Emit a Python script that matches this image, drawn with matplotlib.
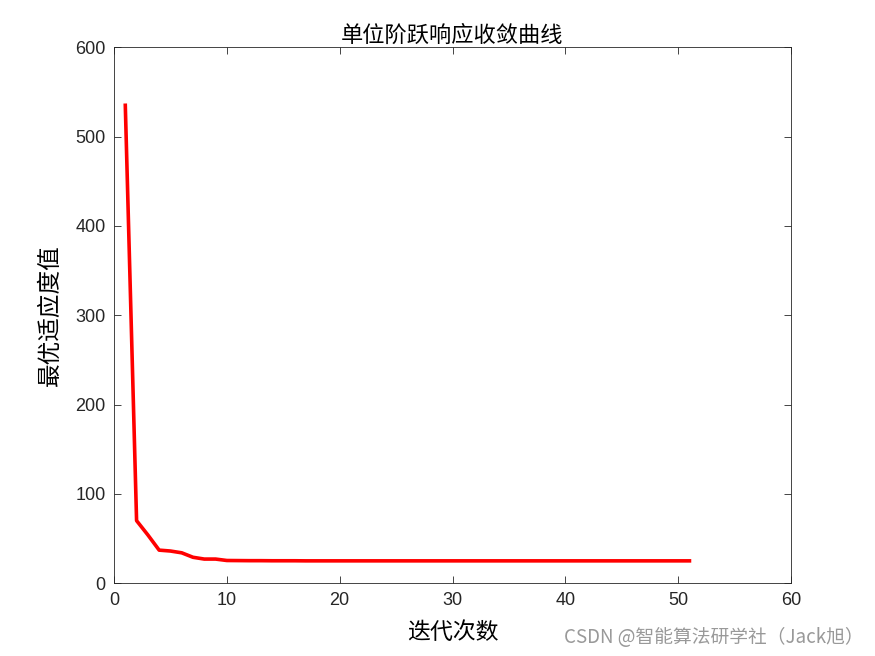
import matplotlib.pyplot as plt
from matplotlib import font_manager

names = {f.name for f in font_manager.fontManager.ttflist}
latin = 'Liberation Sans' if 'Liberation Sans' in names else 'Arimo'
plt.rcParams['font.family'] = [latin, 'Noto Sans CJK SC', 'DejaVu Sans']

# 迭代次数 与 最优适应度值
iters = list(range(1, 52))
fitness = [535, 70, 54, 37, 36, 34, 29, 27, 27, 25.4,
           25.3, 25.2, 25.2, 25.1, 25.1, 25.1, 25.0, 25.0, 25.0, 25.0,
           25.0, 25.0, 25.0, 25.0, 25.0, 25.0, 25.0, 25.0, 25.0, 25.0,
           25.0, 25.0, 25.0, 25.0, 25.0, 25.0, 25.0, 25.0, 25.0, 25.0,
           25.0, 25.0, 25.0, 25.0, 25.0, 25.0, 25.0, 25.0, 25.0, 25.0,
           25.0]
xticks = [0, 10, 20, 30, 40, 50, 60]
yticks = [0, 100, 200, 300, 400, 500, 600]

fig = plt.figure(figsize=(8.75, 6.56), dpi=100)
ax = fig.add_axes([0.1303, 0.111, 0.7737, 0.817])
ax.plot(iters, fitness, color='red', linewidth=2.6)
ax.set_xlim(0, 60)
ax.set_ylim(0, 600)
ax.set_xticks(xticks)
ax.set_yticks(yticks)
ax.set_xticklabels([str(t) for t in xticks], family=[latin, 'DejaVu Sans'])
ax.set_yticklabels([str(t) for t in yticks], family=[latin, 'DejaVu Sans'])
ax.tick_params(direction='in', labelsize=13, length=5, width=0.6,
               top=True, right=True, labeltop=False, labelright=False,
               colors='#262626', pad=6)
for s in ax.spines.values():
    s.set_linewidth(0.6)
    s.set_color('#262626')

cjk = ['Noto Sans CJK SC', 'DejaVu Sans']
ax.set_title('单位阶跃响应收敛曲线', fontsize=16, family=cjk, pad=4)
ax.set_xlabel('迭代次数', fontsize=16.5, family=cjk, labelpad=9)
ax.set_ylabel('最优适应度值', fontsize=17, family=cjk, labelpad=10)

fig.text(0.987, 0.012, 'CSDN @智能算法研学社（Jack旭）', ha='right', va='bottom',
         fontsize=13.5, color='#999999', family=cjk)

fig.savefig('out.png', dpi=100)
